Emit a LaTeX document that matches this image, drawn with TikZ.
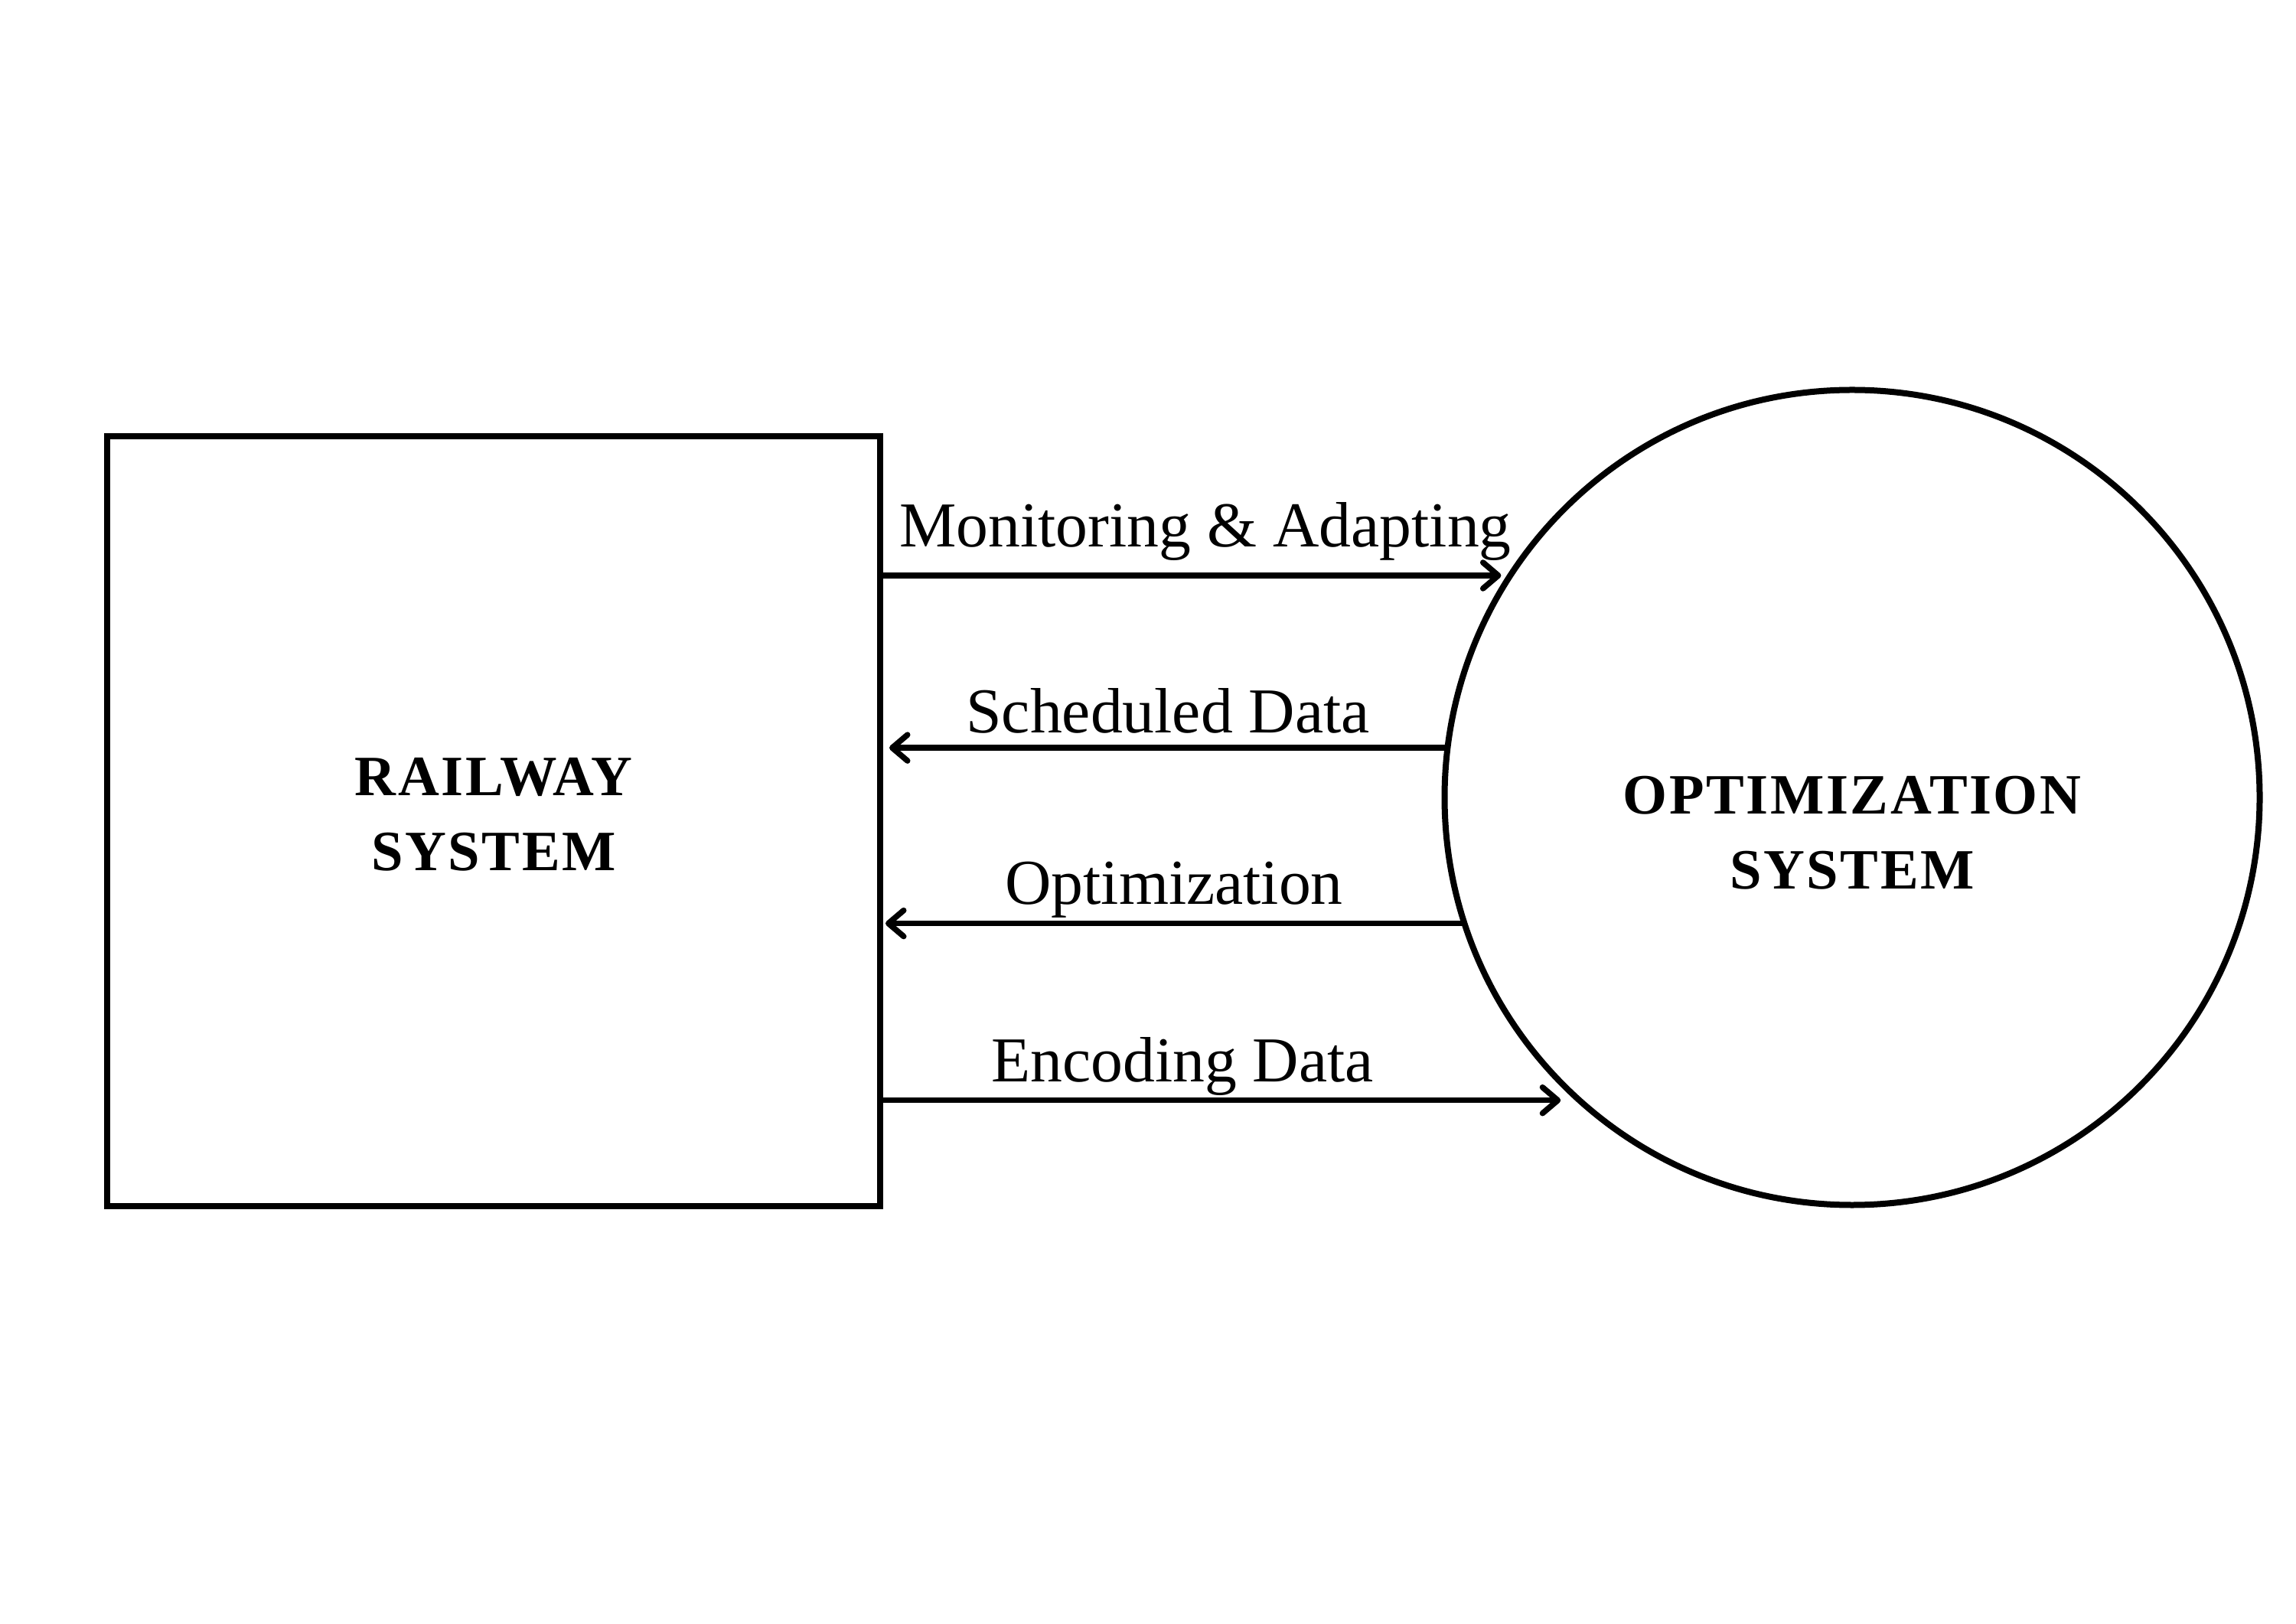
\documentclass[tikz,border=0pt]{standalone}
\usepackage{fontspec}
\setmainfont{Liberation Serif}
\usepackage{tikz}
\usetikzlibrary{arrows.meta}

\tikzset{
    flow/.style={->,>={Straight Barb[length=0.2cm,width=0.34cm,round]},line width=0.075cm},
    flowlabel/.style={anchor=base,inner sep=0pt,font=\fontsize{23.8pt}{28pt}\selectfont},
    syslabel/.style={align=center,inner sep=0pt,font=\fontsize{21.2pt}{28pt}\selectfont\bfseries\addfontfeature{LetterSpace=3.5}}
}

\begin{document}
\begin{tikzpicture}
                \useasboundingbox (0,0) rectangle (30,21.21);
                %entities
                \node[draw,line width=0.08cm,minimum width=10.1cm,minimum height=10.06cm,inner sep=0pt]
                    (rail) at (6.45,10.48) {};
                \node[draw,circle,line width=0.08cm,minimum size=10.65cm,inner sep=0pt,outer sep=0pt]
                    (opt) at (24.20,10.79) {};
                \node[syslabel] (railtext) at (6.45,10.57) {RAILWAY\\SYSTEM};
                \node[syslabel] (opttext) at (24.20,10.33) {OPTIMIZATION\\SYSTEM};
                %data flows
                \draw[flow,shorten >=0.12cm] (rail.east |- opt.147.64) -- (opt.147.64);
                \draw[flow,shorten >=0.08cm] (opt.173.86) -- (opt.173.86 -| rail.east);
                \draw[flow,shorten >=0.03cm] (opt.198.39) -- (opt.198.39 -| rail.east);
                \draw[flow,shorten >=0.245cm] (rail.east |- opt.228.53) -- (opt.228.53);
                %flow labels
                \node[flowlabel] (monitor) at (15.75,14.06) {Monitoring \& Adapting};
                \node[flowlabel] (sched) at (15.26,11.63) {Scheduled Data};
                \node[flowlabel] (optim) at (15.34,9.39) {Optimization};
                \node[flowlabel] (encode) at (15.45,7.08) {Encoding Data};
\end{tikzpicture}
\end{document}
